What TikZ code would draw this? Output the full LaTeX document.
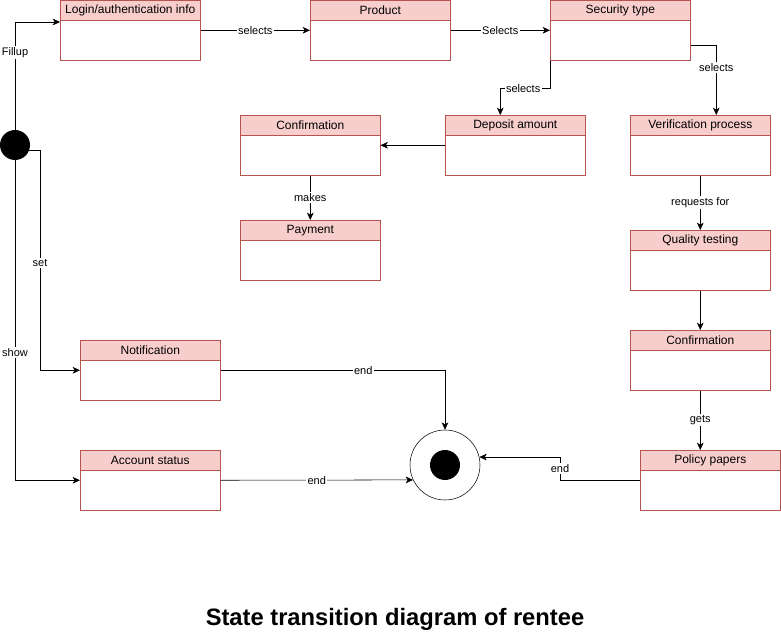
\documentclass[tikz,border=0pt]{standalone}
\usepackage{fontspec}
\setmainfont{Liberation Sans}
\usetikzlibrary{arrows.meta, positioning, calc}
\definecolor{headRed}{HTML}{F8CECC}
\definecolor{lineRed}{HTML}{B85450}
\begin{document}
\begin{tikzpicture}[x=0.75pt, y=-0.75pt,
    statebox/.style={draw=lineRed, fill=white, minimum width=105pt, minimum height=45pt, anchor=north west, inner sep=0pt},
    headbox/.style={draw=lineRed, fill=headRed, minimum width=105pt, minimum height=15pt, anchor=north west, inner sep=0pt, font=\fontsize{9}{10}\selectfont},
    lbl/.style={fill=white, inner sep=1pt, font=\fontsize{8.25}{9}\selectfont},
    go/.style={-{Stealth[length=5.5pt, width=5pt, inset=1.5pt]}, black}]
                \useasboundingbox (0,0) rectangle (781,641);
                % states
                \foreach \n/\x/\y/\t in {login/60/0/{Login/authentication info}, product/310/0/Product, security/550/0/{Security type},
                    conf/240/115/Confirmation, deposit/445/115/{Deposit amount}, verif/630/115/{Verification process},
                    payment/240/220/Payment, quality/630/230/{Quality testing}, conftwo/630/330/Confirmation,
                    notif/80/340/Notification, account/80/450/{Account status}, policy/640/450/{Policy papers}} {
                    \node[statebox] (\n) at (\x,\y) {};
                    \node[headbox] (\n-h) at (\x,\y) {\t};
                }
                % start and end
                \node[circle, fill=black, minimum size=22.5pt, inner sep=0pt] (init) at (15,145) {};
                \node[circle, draw, minimum size=52.5pt, inner sep=0pt] (final) at (445,465) {};
                \node[circle, fill=black, minimum size=22.5pt, inner sep=0pt] (final-dot) at (final) {};
                % transitions
                \draw[go] (init.north) |- ([yshift=-16.5pt]login.north west) node[lbl, pos=0.36] {Fillup};
                \draw[go] (init.-20) -| ([xshift=-30pt]notif.west) node[lbl, pos=0.757] {set} -- (notif.west);
                \draw[go] (init.south) |- (account.west) node[lbl, pos=0.3] {show};
                \draw[go] (login.east) -- (product.west) node[lbl, midway] {selects};
                \draw[go] (product.east) -- (security.west) node[lbl, midway] {Selects};
                \draw[go] (security.south west) -- ++(0,28) -| ([xshift=-11.25pt]deposit.north) node[lbl, pos=0.27] {selects};
                \draw[go] ([yshift=-11.25pt]security.east) -| ([xshift=12pt]verif.north) node[lbl, pos=0.66] {selects};
                \draw[go] (deposit.west) -- (conf.east);
                \draw[go] (conf.south) -- (payment.north) node[lbl, midway] {makes};
                \draw[go] (verif.south) -- (quality.north) node[lbl, midway] {requests for};
                \draw[go] (quality.south) -- (conftwo.north);
                \draw[go] (conftwo.south) -- (conftwo.south |- policy.north) node[lbl, midway] {gets};
                \draw[go] (notif.east) -| (final.north) node[lbl, pos=0.318] {end};
                \draw[go] (account.east) -- (final.205) node[lbl, midway] {end};
                \draw[go] (policy.west) -- ++(-80,0) |- (final.13) node[lbl, pos=0.26] {end};
                % caption
                \node[font=\bfseries\fontsize{17.8}{20}\selectfont] (title) at (395,619) {State transition diagram of rentee};
            \end{tikzpicture}
\end{document}
